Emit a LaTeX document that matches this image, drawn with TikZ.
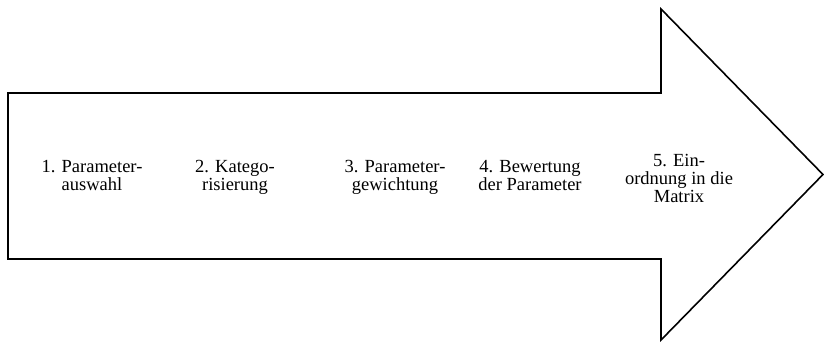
\documentclass[tikz,border=0pt]{standalone}
\usepackage{fontspec}
\setmainfont{Liberation Serif}
\begin{document}
\begin{tikzpicture}[x=1pt,y=-1pt,
  outline/.style={draw=black,line width=1.6pt,line join=miter},
  steplabel/.style={align=center,inner sep=0pt,anchor=center,
    font=\fontsize{18.5}{18}\selectfont}]
  \useasboundingbox (0,0) rectangle (824,341);
  % process arrow
  \draw[outline] (8,93) coordinate (bodyTL) -- (661,93) -- (661,9)
    -- (823,174.5) coordinate (tip) -- (661,340) -- (661,259)
    -- (8,259) -- cycle;
  % process steps
  \node[steplabel] (s1) at (92,175) {1. Parameter-\\auswahl};
  \node[steplabel] (s2) at (235,177) {2. Katego-\\risierung};
  \node[steplabel] (s3) at (395,177) {3. Parameter-\\gewichtung};
  \node[steplabel] (s4) at (530,175) {4. Bewertung\\der Parameter};
  \node[steplabel] (s5) at (679,178) {5. Ein-\\ordnung in die\\Matrix};
\end{tikzpicture}
\end{document}
